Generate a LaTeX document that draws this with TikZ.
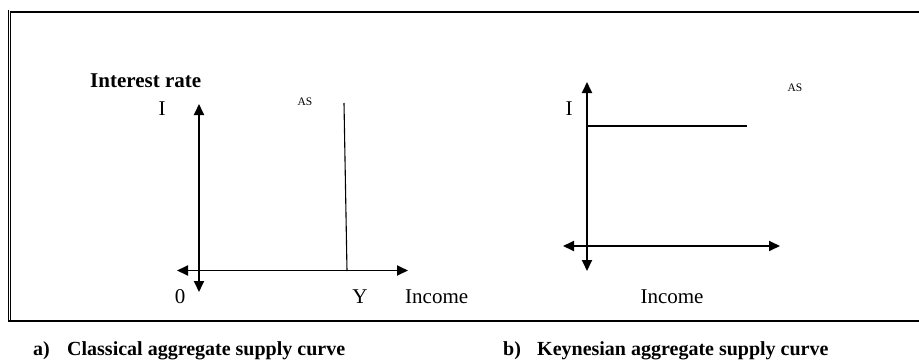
\documentclass[tikz,border=0pt]{standalone}
\usepackage{fontspec}
\setmainfont{Liberation Serif}
\usetikzlibrary{arrows.meta}
\begin{document}
\begin{tikzpicture}[x=1pt,y=-1pt,
  axis/.style={line width=1.8pt,{Triangle[length=11pt,width=10pt]}-{Triangle[length=11pt,width=10pt]}},
  curveline/.style={line width=1.1pt},
  lbl/.style={inner sep=0pt,font=\fontsize{21}{23}\selectfont},
  smalllbl/.style={inner sep=0pt,font=\fontsize{11.5}{12}\selectfont},
  captxt/.style={inner sep=0pt,font=\fontsize{20}{22}\selectfont\bfseries},
  frameline/.style={line width=2pt},
  thinframe/.style={line width=0.9pt}]
\useasboundingbox (0,0) rectangle (919,362);
% frame
\draw[thinframe] (8.3,10) -- (8.3,322);
\draw[thinframe] (10.7,12) -- (10.7,320);
\draw[frameline] (10,12) -- (919,12);
\draw[frameline] (8,321) -- (919,321);
% left graph
\coordinate (lyt) at (199,104);
\coordinate (lyb) at (199,292);
\coordinate (lxl) at (177,270.5);
\coordinate (lxr) at (408,270.5);
\coordinate (las1) at (344,103);
\coordinate (las2) at (347,271);
\draw[axis] (lyb) -- (lyt);
\draw[axis] (lxl) -- (lxr);
\draw[curveline] (las1) -- (las2);
\node[lbl,anchor=base west,font=\fontsize{21}{23}\selectfont\bfseries] (ir) at (90,87.5) {Interest rate};
\node[lbl,anchor=base] (li) at (162,115) {I};
\node[smalllbl,anchor=base] (las) at (305,105) {AS};
\node[lbl,anchor=base] (l0) at (180,303) {0};
\node[lbl,anchor=base] (ly) at (360,303) {Y};
\node[lbl,anchor=base west] (linc) at (405,303) {Income};
% right graph
\coordinate (ryt) at (587,82);
\coordinate (ryb) at (587,271);
\coordinate (rxl) at (563,246);
\coordinate (rxr) at (780,246);
\coordinate (ras1) at (587,126);
\coordinate (ras2) at (747,126);
\draw[axis] (ryb) -- (ryt);
\draw[axis] (rxl) -- (rxr);
\draw[curveline] (ras1) -- (ras2);
\node[lbl,anchor=base] (ri) at (569,115) {I};
\node[smalllbl,anchor=base] (ras) at (795,91) {AS};
\node[lbl,anchor=base] (rinc) at (672,303) {Income};
% captions
\node[captxt,anchor=base west] (ca) at (33,355) {a)};
\node[captxt,anchor=base west] (cat) at (67,355) {Classical aggregate supply curve};
\node[captxt,anchor=base west] (cb) at (503,355) {b)};
\node[captxt,anchor=base west] (cbt) at (537,355) {Keynesian aggregate supply curve};
\end{tikzpicture}
\end{document}
